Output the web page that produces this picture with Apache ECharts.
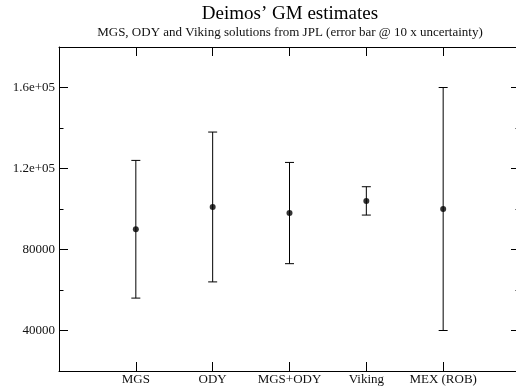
<!DOCTYPE html>
<html>
<head>
<meta charset="utf-8">
<script src="https://cdn.jsdelivr.net/npm/echarts@6/dist/echarts.min.js"></script>
<style>
html,body{margin:0;padding:0;background:#fff;}
#c{width:516px;height:387px;}
</style>
</head>
<body>
<div id="c"></div>
<script>
var categories = ['MGS', 'ODY', 'MGS+ODY', 'Viking', 'MEX (ROB)'];
var gmValues = [90000, 101000, 98000, 104000, 100000];
var errorSizes = [34000, 37000, 25000, 7000, 60000];
var yTickValues = [40000, 80000, 120000, 160000];
var yTickLabels = ['40000', '80000', '1.2e+05', '1.6e+05'];
var titleText = 'Deimos\u2019 GM estimates';
var subtitleText = 'MGS, ODY and Viking solutions from JPL (error bar @ 10 x uncertainty)';

var FONT = '"Liberation Serif", "DejaVu Serif", serif';
var pointData = gmValues.map(function (v, i) { return [i + 1, v]; });
var errData = gmValues.map(function (v, i) { return [i + 1, v - errorSizes[i], v + errorSizes[i]]; });

var chart = echarts.init(document.getElementById('c'), null, {renderer: 'canvas'});

function yAxisCfg(pos, showLabels) {
  return {
    type: 'value', position: pos, min: 20000, max: 180000,
    minInterval: 40000, maxInterval: 40000,
    splitLine: {show: false},
    axisLine: {show: true, onZero: false, lineStyle: {color: '#000', width: 1}},
    axisTick: {show: true, inside: true, length: 9, lineStyle: {color: '#000', width: 1}},
    minorTick: {show: true, splitNumber: 2, length: 4.5, lineStyle: {color: '#000', width: 1}},
    axisLabel: {
      show: showLabels, margin: 4, color: '#111', fontFamily: FONT, fontSize: 13,
      formatter: function (v) { var i = yTickValues.indexOf(v); return i >= 0 ? yTickLabels[i] : ''; }
    }
  };
}
function xAxisCfg(pos, showLabels) {
  return {
    type: 'value', position: pos, min: 0, max: 6, interval: 1,
    splitLine: {show: false},
    axisLine: {show: true, onZero: false, lineStyle: {color: '#000', width: 1}},
    axisTick: {show: true, inside: true, length: 9, lineStyle: {color: '#000', width: 1}},
    axisLabel: {
      show: showLabels, margin: 2, color: '#111', fontFamily: FONT, fontSize: 13,
      formatter: function (v) { return (v >= 1 && v <= categories.length) ? categories[v - 1] : ''; }
    }
  };
}

chart.setOption({
  animation: false,
  backgroundColor: '#fff',
  title: [
    {text: titleText, left: 290, top: 5, padding: 0, textAlign: 'center',
     textStyle: {fontFamily: FONT, fontSize: 19, fontWeight: 'normal', color: '#000'}},
    {text: subtitleText, left: 290, top: 26, padding: 0, textAlign: 'center',
     textStyle: {fontFamily: FONT, fontSize: 13, fontWeight: 'normal', color: '#111'}}
  ],
  grid: {left: 59, right: -4, top: 47, bottom: 16, outerBoundsMode: 'none', containLabel: false},
  xAxis: [xAxisCfg('bottom', true), xAxisCfg('top', false)],
  yAxis: [yAxisCfg('left', true), yAxisCfg('right', false)],
  series: [
    {
      type: 'custom', xAxisIndex: 0, yAxisIndex: 0, data: errData,
      encode: {x: 0, y: [1, 2]},
      renderItem: function (params, api) {
        var x = api.value(0);
        var pLo = api.coord([x, api.value(1)]);
        var pHi = api.coord([x, api.value(2)]);
        var hw = 4.5;
        var st = {stroke: '#000', lineWidth: 1};
        return {type: 'group', children: [
          {type: 'line', shape: {x1: pLo[0], y1: pLo[1], x2: pHi[0], y2: pHi[1]}, style: st},
          {type: 'line', shape: {x1: pLo[0] - hw, y1: pLo[1], x2: pLo[0] + hw, y2: pLo[1]}, style: st},
          {type: 'line', shape: {x1: pHi[0] - hw, y1: pHi[1], x2: pHi[0] + hw, y2: pHi[1]}, style: st}
        ]};
      },
      z: 2
    },
    {
      type: 'scatter', xAxisIndex: 0, yAxisIndex: 0, data: pointData,
      symbol: 'circle', symbolSize: 6, itemStyle: {color: '#000'}, z: 3
    }
  ]
});
</script>
</body>
</html>
